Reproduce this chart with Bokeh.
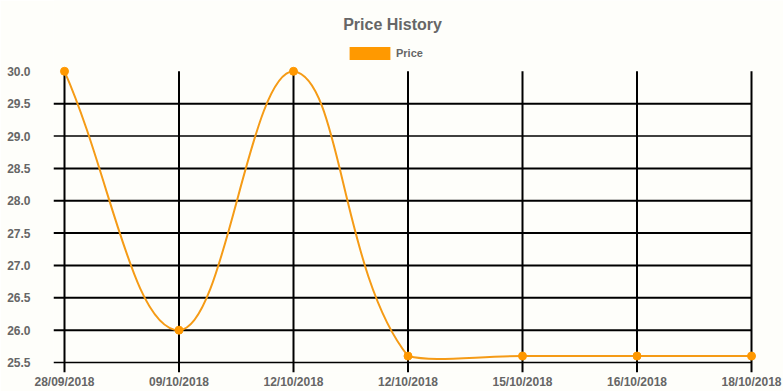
from bokeh.plotting import figure
from bokeh.models import (Range1d, FixedTicker, Label, Legend, LegendItem,
                          PrintfTickFormatter, ColumnDataSource)
from bokeh.embed import file_html
from bokeh.resources import INLINE

# ---- data ----
dates = ["28/09/2018", "09/10/2018", "12/10/2018", "12/10/2018",
         "15/10/2018", "16/10/2018", "18/10/2018"]
prices = [30.0, 26.0, 30.0, 25.6, 25.6, 25.6, 25.6]
y_ticks = [25.5, 26.0, 26.5, 27.0, 27.5, 28.0, 28.5, 29.0, 29.5, 30.0]
series_name = "Price"
title_text = "Price History"

# ---- layout (page has no margin: canvas px == screen px) ----
W, H = 783, 391
BL, BB = 53, 18                    # borders for the axes; frame fills the rest
frame_w = W - BL
frame_h = H - BB
chart_left, chart_right = 64.0, 751.0    # first / last category (screen px)
chart_top, chart_bottom = 71.0, 363.0    # top / bottom tick (screen px)
n = len(dates)
px_x = (chart_right - chart_left) / (n - 1)
y_min, y_max = y_ticks[0], y_ticks[-1]
px_y = (chart_bottom - chart_top) / (y_max - y_min)
x_start = -(chart_left - BL) / px_x
x_end = (n - 1) + (W - chart_right) / px_x
y_start = y_min - (frame_h - chart_bottom) / px_y
y_end = y_max + chart_top / px_y
grid_left = -(chart_left - BL) / px_x   # horizontal lines reach the frame's left edge

TEXT = "#666666"
FONT = "Liberation Sans"
LINE_C = "#f59b16"
PT_C = "#ff9800"
BG = "#fefefa"

p = figure(width=W, height=H, output_backend="svg", toolbar_location=None,
           x_range=Range1d(x_start, x_end), y_range=Range1d(y_start, y_end),
           min_border_left=BL, min_border_right=0,
           min_border_top=0, min_border_bottom=BB)
p.background_fill_color = BG
p.border_fill_color = BG
p.outline_line_color = None
p.xgrid.visible = False
p.ygrid.visible = False

# axes
xs = list(range(n))
p.xaxis.ticker = FixedTicker(ticks=xs)
p.xaxis.major_label_overrides = {i: d for i, d in enumerate(dates)}
p.yaxis.ticker = FixedTicker(ticks=y_ticks)
p.yaxis.formatter = PrintfTickFormatter(format="%.1f")
for ax in (p.xaxis[0], p.yaxis[0]):
    ax.axis_line_color = None
    ax.major_tick_out = 0
    ax.major_tick_in = 0
    ax.minor_tick_out = 0
    ax.minor_tick_in = 0
    ax.major_label_text_font = FONT
    ax.major_label_text_font_style = "bold"
    ax.major_label_text_font_size = "12px"
    ax.major_label_text_color = TEXT
p.xaxis.major_label_standoff = 2
p.yaxis.major_label_standoff = 23

# grid lines (Chart.js style: they also form the tick marks)
thin = [29.0, 25.5]
h_ticks = [t for t in y_ticks if t != y_max]
p.segment(x0=[grid_left] * len(h_ticks), y0=h_ticks,
          x1=[n - 1] * len(h_ticks), y1=h_ticks,
          line_color="black",
          line_width=[1.4 if t in thin else 2 for t in h_ticks])
p.segment(x0=xs, y0=[y_start] * n, x1=xs, y1=[y_max] * n,
          line_color="black", line_width=2)

# Chart.js-style spline (tension 0.4), computed in pixel space
def to_px(i, v):
    return i * px_x, v * px_y

T = 0.4
pts = [to_px(i, v) for i, v in enumerate(prices)]
left, right = 0.0, (n - 1) * px_x
bot, top = y_min * px_y, y_max * px_y
prev_cp, next_cp = [], []
for i in range(n):
    cur = pts[i]
    pr = pts[i - 1] if i > 0 else cur
    nx = pts[i + 1] if i < n - 1 else cur
    d01 = ((cur[0] - pr[0]) ** 2 + (cur[1] - pr[1]) ** 2) ** 0.5
    d12 = ((nx[0] - cur[0]) ** 2 + (nx[1] - cur[1]) ** 2) ** 0.5
    s = d01 + d12
    s01 = d01 / s if s else 0
    s12 = d12 / s if s else 0
    fa, fb = T * s01, T * s12
    a = (cur[0] - fa * (nx[0] - pr[0]), cur[1] - fa * (nx[1] - pr[1]))
    b = (cur[0] + fb * (nx[0] - pr[0]), cur[1] + fb * (nx[1] - pr[1]))
    cap = lambda q: (min(max(q[0], left), right), min(max(q[1], bot), top))
    prev_cp.append(cap(a))
    next_cp.append(cap(b))

seg = dict(x0=[], y0=[], x1=[], y1=[], cx0=[], cy0=[], cx1=[], cy1=[])
for i in range(n - 1):
    seg["x0"].append(pts[i][0] / px_x); seg["y0"].append(pts[i][1] / px_y)
    seg["x1"].append(pts[i + 1][0] / px_x); seg["y1"].append(pts[i + 1][1] / px_y)
    seg["cx0"].append(next_cp[i][0] / px_x); seg["cy0"].append(next_cp[i][1] / px_y)
    seg["cx1"].append(prev_cp[i + 1][0] / px_x); seg["cy1"].append(prev_cp[i + 1][1] / px_y)
p.bezier(x0="x0", y0="y0", x1="x1", y1="y1", cx0="cx0", cy0="cy0",
         cx1="cx1", cy1="cy1", source=ColumnDataSource(seg),
         line_color=LINE_C, line_width=2)

p.scatter(x=xs, y=prices, size=8, fill_color=PT_C, line_color=PT_C)

# legend (Chart.js-style filled box); renderer holds a single non-drawn NaN quad
nan = float("nan")
dummy = p.quad(left=[nan], right=[nan], top=[nan], bottom=[nan],
               fill_color="#ff9900", line_color=None)
leg_left, leg_top, leg_h = 344, 46.4, 16
legend = Legend(items=[LegendItem(label=series_name, renderers=[dummy])],
                location=(leg_left - BL, frame_h - (leg_top + leg_h)),
                orientation="horizontal",
                padding=0, margin=0, spacing=0, border_line_color=None,
                background_fill_alpha=0, glyph_width=51, glyph_height=leg_h,
                label_height=leg_h, label_standoff=1,
                label_text_font=FONT, label_text_font_style="bold",
                label_text_font_size="11px", label_text_color=TEXT)
p.add_layout(legend)

# title
title_cx, title_base = 392, 25
p.add_layout(Label(x=title_cx - BL, y=frame_h - title_base,
                   x_units="screen", y_units="screen",
                   text=title_text, text_align="center", text_baseline="alphabetic",
                   text_font=FONT, text_font_style="bold", text_font_size="16px",
                   text_color=TEXT))

open("out.html", "w").write(file_html(p, INLINE))
